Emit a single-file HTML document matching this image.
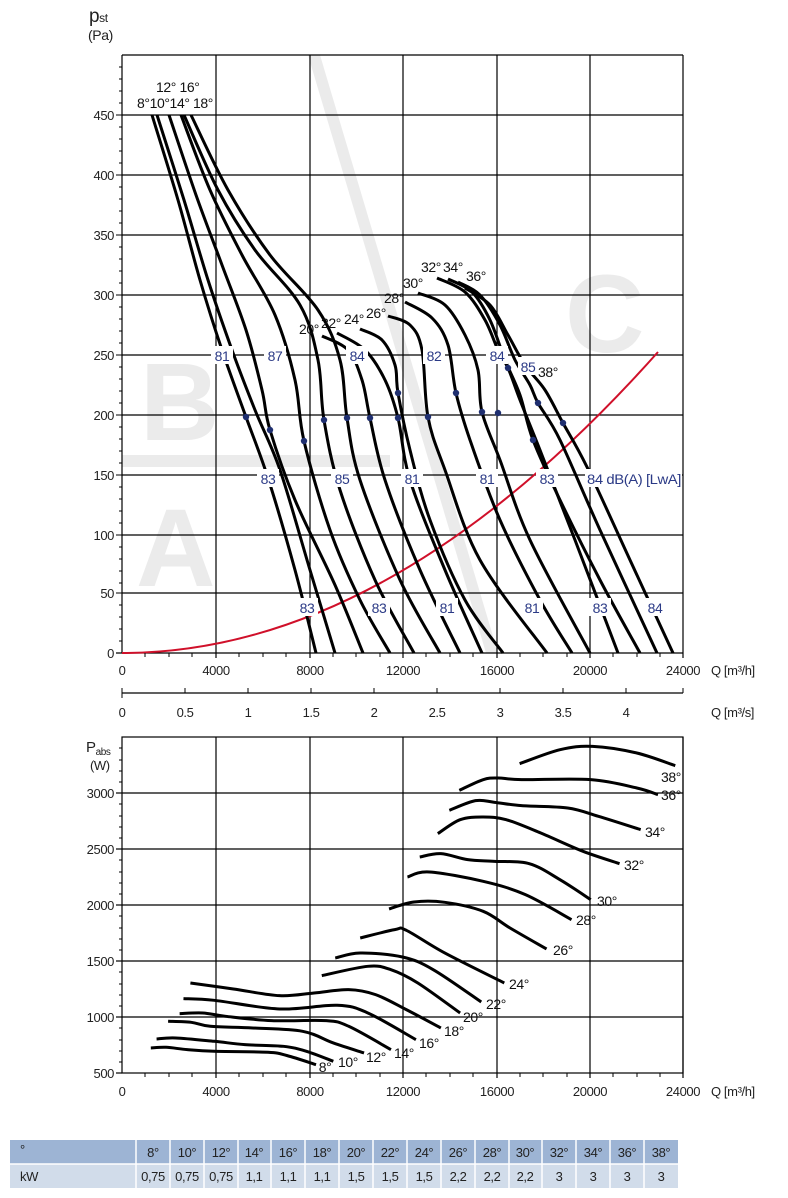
<!DOCTYPE html>
<html><head><meta charset="utf-8"><style>
html,body{margin:0;padding:0;background:#fff}
svg{display:block}
text{font-family:"Liberation Sans Narrow","Liberation Sans",sans-serif;letter-spacing:-0.4px}
.t{font-size:13px;fill:#222}
.b{font-size:14px;fill:#2b3a86}
.d{font-size:14px;fill:#111}
.c{fill:none;stroke:#000;stroke-width:3;stroke-linejoin:round;stroke-linecap:butt}
.g{stroke:#000;stroke-width:1.2}
</style></head><body>
<svg width="788" height="1198" viewBox="0 0 788 1198" xmlns="http://www.w3.org/2000/svg">
<g fill="#ebebeb">
<polygon points="308,55 320,55 498,653 486,653"/>
<rect x="122" y="455" width="268" height="12"/>
<text x="140" y="440" style="font-size:110px;font-weight:bold;font-family:'Liberation Sans',sans-serif">B</text>
<text x="136" y="586" style="font-size:110px;font-weight:bold;font-family:'Liberation Sans',sans-serif">A</text>
<text x="565" y="352" style="font-size:110px;font-weight:bold;font-family:'Liberation Sans',sans-serif">C</text>
</g>
<g class="g">
<line x1="122" y1="55" x2="683" y2="55"/>
<line x1="122" y1="115" x2="683" y2="115"/><line x1="122" y1="175" x2="683" y2="175"/>
<line x1="122" y1="235" x2="683" y2="235"/><line x1="122" y1="295" x2="683" y2="295"/>
<line x1="122" y1="355" x2="683" y2="355"/><line x1="122" y1="415" x2="683" y2="415"/>
<line x1="122" y1="475" x2="683" y2="475"/><line x1="122" y1="535" x2="683" y2="535"/>
<line x1="122" y1="593" x2="683" y2="593"/><line x1="116" y1="653" x2="683" y2="653"/>
<line x1="122" y1="55" x2="122" y2="653"/>
<line x1="216" y1="55" x2="216" y2="658"/><line x1="310" y1="55" x2="310" y2="658"/>
<line x1="403" y1="55" x2="403" y2="658"/><line x1="497" y1="55" x2="497" y2="658"/>
<line x1="590" y1="55" x2="590" y2="658"/><line x1="683" y1="55" x2="683" y2="658"/>
</g>
<g class="t" text-anchor="end">
<text x="114" y="658">0</text><text x="114" y="598">50</text><text x="114" y="540">100</text>
<text x="114" y="480">150</text><text x="114" y="420">200</text><text x="114" y="360">250</text>
<text x="114" y="300">300</text><text x="114" y="240">350</text><text x="114" y="180">400</text>
<text x="114" y="120">450</text>
</g>
<text x="89" y="22" style="font-size:19px;fill:#222">p<tspan style="font-size:12px">st</tspan></text>
<text x="88" y="40" style="font-size:14px;fill:#222">(Pa)</text>
<g class="t" text-anchor="middle">
<text x="122" y="675">0</text><text x="216" y="675">4000</text><text x="310" y="675">8000</text>
<text x="403" y="675">12000</text><text x="497" y="675">16000</text><text x="590" y="675">20000</text>
<text x="683" y="675">24000</text>
</g>
<text x="711" y="675" class="t">Q [m³/h]</text>
<line x1="122" y1="693" x2="683" y2="693" stroke="#000" stroke-width="1.2"/>
<g stroke="#000" stroke-width="1">
<line x1="122" y1="688" x2="122" y2="698"/><line x1="185" y1="688" x2="185" y2="693"/><line x1="248" y1="688" x2="248" y2="693"/><line x1="311" y1="688" x2="311" y2="693"/><line x1="374" y1="688" x2="374" y2="693"/><line x1="437" y1="688" x2="437" y2="693"/><line x1="500" y1="688" x2="500" y2="693"/><line x1="563" y1="688" x2="563" y2="693"/><line x1="626" y1="688" x2="626" y2="693"/><line x1="683" y1="688" x2="683" y2="693"/>
</g>
<g class="t" text-anchor="middle">
<text x="122" y="717">0</text><text x="185" y="717">0.5</text><text x="248" y="717">1</text><text x="311" y="717">1.5</text><text x="374" y="717">2</text><text x="437" y="717">2.5</text><text x="500" y="717">3</text><text x="563" y="717">3.5</text><text x="626" y="717">4</text>
</g>
<text x="711" y="717" class="t">Q [m³/s]</text>

<path d="M122,653 Q390,653 658,352" fill="none" stroke="#d0102a" stroke-width="2"/>

<g class="c">
<polyline class="s" points="152,115 178,200 200,280 222,350 246,417 268,478 295,570 316,653"/>
<polyline class="s" points="157,115 184,200 208,280 232,350 255,410 280,470 310,570 335,653"/>
<polyline class="s" points="169,115 196,195 222,265 246,330 262,390 270,430 295,500 335,585 363,653"/>
<polyline class="s" points="181,115 210,190 242,255 275,315 295,380 304,441 330,530 360,600 390,653"/>
<polyline class="s" points="184,115 218,190 255,250 300,305 318,360 324,420 340,490 375,580 414,653"/>
<polyline class="s" points="191,115 228,190 270,255 318,310 340,360 347,418 360,480 400,580 440,653"/>
<polyline class="s" points="322,336 348,350 362,380 370,418 385,480 420,570 460,653"/>
<polyline class="s" points="337,333 365,350 385,380 398,418 410,480 445,570 482,653"/>
<polyline class="s" points="360,329 382,340 395,365 398,393 410,450 430,520 465,600 503,653"/>
<polyline class="s" points="388,316 410,325 422,350 428,417 445,470 480,560 547,653"/>
<polyline class="s" points="405,302 432,318 448,345 456,393 470,440 500,520 540,600 572,653"/>
<polyline class="s" points="418,293 445,305 465,335 478,370 482,412 500,460 530,540 590,653"/>
<polyline class="s" points="437,278 465,292 485,320 498,350 508,368 520,400 540,450 575,540 618,653"/>
<polyline class="s" points="448,279 472,292 490,320 505,360 520,395 533,440 560,500 600,580 640,653"/>
<polyline class="s" points="458,282 480,295 500,325 515,360 530,385 538,403 560,440 600,530 657,653"/>
<polyline class="s" points="465,288 490,305 508,335 525,365 545,390 563,423 587,467 630,560 673,653"/>
</g>
<g fill="#1f2f70">
<circle cx="246" cy="417" r="3.2"/><circle cx="270" cy="430" r="3.2"/><circle cx="304" cy="441" r="3.2"/>
<circle cx="324" cy="420" r="3.2"/><circle cx="347" cy="418" r="3.2"/><circle cx="370" cy="418" r="3.2"/>
<circle cx="398" cy="418" r="3.2"/><circle cx="398" cy="393" r="3.2"/><circle cx="428" cy="417" r="3.2"/>
<circle cx="456" cy="393" r="3.2"/><circle cx="482" cy="412" r="3.2"/><circle cx="498" cy="413" r="3.2"/>
<circle cx="508" cy="368" r="3.2"/><circle cx="533" cy="440" r="3.2"/><circle cx="538" cy="403" r="3.2"/>
<circle cx="563" cy="423" r="3.2"/>
</g>
<g fill="#fff">
<rect x="211" y="346" width="22" height="18"/><rect x="264" y="346" width="22" height="18"/>
<rect x="346" y="346" width="22" height="18"/><rect x="423" y="346" width="22" height="18"/>
<rect x="486" y="346" width="22" height="18"/><rect x="518" y="357" width="20" height="18"/>
<rect x="257" y="469" width="22" height="18"/><rect x="331" y="469" width="22" height="18"/>
<rect x="401" y="469" width="22" height="18"/><rect x="476" y="469" width="22" height="18"/>
<rect x="536" y="469" width="22" height="18"/><rect x="585" y="469" width="97" height="18"/>
<rect x="296" y="598" width="22" height="18"/><rect x="368" y="598" width="22" height="18"/>
<rect x="436" y="598" width="22" height="18"/><rect x="521" y="598" width="22" height="18"/>
<rect x="589" y="598" width="22" height="18"/><rect x="644" y="598" width="22" height="18"/>
</g>
<g class="b" text-anchor="middle">
<text x="222" y="361">81</text><text x="275" y="361">87</text><text x="357" y="361">84</text>
<text x="434" y="361">82</text><text x="497" y="361">84</text><text x="528" y="372">85</text>
<text x="268" y="484">83</text><text x="342" y="484">85</text><text x="412" y="484">81</text>
<text x="487" y="484">81</text><text x="547" y="484">83</text>
<text x="307" y="613">83</text><text x="379" y="613">83</text><text x="447" y="613">81</text>
<text x="532" y="613">81</text><text x="600" y="613">83</text><text x="655" y="613">84</text>
</g>
<text x="587" y="484" class="b" textLength="94" lengthAdjust="spacingAndGlyphs">84 dB(A) [LwA]</text>
<g class="d">
<text x="156" y="92">12° 16°</text>
<text x="137" y="108" textLength="76" lengthAdjust="spacingAndGlyphs">8°10°14° 18°</text>
<text x="299" y="334">20°</text><text x="321" y="328">22°</text><text x="344" y="324">24°</text><text x="366" y="318">26°</text>
<text x="384" y="303">28°</text><text x="403" y="288">30°</text>
<text x="421" y="272">32°</text><text x="443" y="272">34°</text><text x="466" y="281">36°</text>
<text x="538" y="377">38°</text>
</g>

<g class="g">
<rect x="122" y="737" width="561" height="336" fill="none"/>
<line x1="122" y1="1017" x2="683" y2="1017"/><line x1="122" y1="961" x2="683" y2="961"/>
<line x1="122" y1="905" x2="683" y2="905"/><line x1="122" y1="849" x2="683" y2="849"/>
<line x1="122" y1="793" x2="683" y2="793"/>
<line x1="216" y1="737" x2="216" y2="1078"/><line x1="310" y1="737" x2="310" y2="1078"/>
<line x1="403" y1="737" x2="403" y2="1078"/><line x1="497" y1="737" x2="497" y2="1078"/>
<line x1="590" y1="737" x2="590" y2="1078"/><line x1="683" y1="737" x2="683" y2="1078"/>
<line x1="116" y1="1073" x2="122" y2="1073"/><line x1="116" y1="1017" x2="122" y2="1017"/><line x1="116" y1="961" x2="122" y2="961"/><line x1="116" y1="905" x2="122" y2="905"/><line x1="116" y1="849" x2="122" y2="849"/><line x1="116" y1="793" x2="122" y2="793"/>
</g>
<g class="t" text-anchor="end">
<text x="114" y="1078">500</text><text x="114" y="1022">1000</text><text x="114" y="966">1500</text>
<text x="114" y="910">2000</text><text x="114" y="854">2500</text><text x="114" y="798">3000</text>
</g>
<text x="86" y="752" style="font-size:15px;fill:#222">P<tspan style="font-size:10px" dy="3">abs</tspan></text>
<text x="90" y="770" style="font-size:13px;fill:#222">(W)</text>
<g class="t" text-anchor="middle">
<text x="122" y="1096">0</text><text x="216" y="1096">4000</text><text x="310" y="1096">8000</text>
<text x="403" y="1096">12000</text><text x="497" y="1096">16000</text><text x="590" y="1096">20000</text>
<text x="683" y="1096">24000</text>
</g>
<text x="711" y="1096" class="t">Q [m³/h]</text>

<g transform="matrix(0.3842 0 0 0.3333 98.95 719.67)">
<g fill="none" stroke="#000" stroke-width="3" stroke-linejoin="round">
<polyline class="s" vector-effect="non-scaling-stroke" points="135,985 175,983 230,990 300,995 440,998 490,1008 565,1035"/>
<polyline class="s" vector-effect="non-scaling-stroke" points="150,958 200,955 300,965 380,975 480,980 540,995 610,1025"/>
<polyline class="s" vector-effect="non-scaling-stroke" points="180,905 240,908 290,920 400,925 530,935 610,970 690,1000"/>
<polyline class="s" vector-effect="non-scaling-stroke" points="210,882 270,880 330,890 450,903 590,903 650,920 760,990"/>
<polyline class="s" vector-effect="non-scaling-stroke" points="220,837 300,842 470,868 620,857 700,880 825,960"/>
<polyline class="s" vector-effect="non-scaling-stroke" points="238,790 350,808 470,828 560,820 650,810 720,825 800,870 890,925"/>
<polyline class="s" vector-effect="non-scaling-stroke" points="580,768 700,740 760,750 830,790 940,880"/>
<polyline class="s" vector-effect="non-scaling-stroke" points="615,715 680,700 790,712 870,750 995,847"/>
<polyline class="s" vector-effect="non-scaling-stroke" points="680,655 770,630 800,632 900,700 1055,790"/>
<polyline class="s" vector-effect="non-scaling-stroke" points="755,568 820,547 900,548 1000,575 1070,625 1165,688"/>
<polyline class="s" vector-effect="non-scaling-stroke" points="803,472 860,457 1000,485 1110,525 1230,600"/>
<polyline class="s" vector-effect="non-scaling-stroke" points="835,412 890,402 960,420 1030,425 1120,432 1200,480 1280,540"/>
<polyline class="s" vector-effect="non-scaling-stroke" points="882,342 940,300 1000,292 1060,300 1150,340 1260,395 1355,432"/>
<polyline class="s" vector-effect="non-scaling-stroke" points="912,272 980,243 1030,248 1100,258 1220,265 1300,290 1410,330"/>
<polyline class="s" vector-effect="non-scaling-stroke" points="938,212 1000,180 1040,175 1100,180 1280,180 1400,205 1455,225"/>
<polyline class="s" vector-effect="non-scaling-stroke" points="1095,132 1200,90 1285,80 1400,100 1500,138"/>
</g>
</g>
<g class="d" text-anchor="middle">
<text x="325" y="1072">8°</text><text x="348" y="1067">10°</text><text x="376" y="1062">12°</text>
<text x="404" y="1058">14°</text><text x="429" y="1048">16°</text><text x="454" y="1036">18°</text>
<text x="473" y="1022">20°</text><text x="496" y="1009">22°</text><text x="519" y="989">24°</text>
<text x="563" y="955">26°</text><text x="586" y="925">28°</text><text x="607" y="906">30°</text>
<text x="634" y="870">32°</text><text x="655" y="837">34°</text><text x="671" y="800">36°</text>
<text x="671" y="782">38°</text>
</g>

<g>
<rect x="10" y="1140" width="668" height="24" fill="#9db4d4"/>
<rect x="10" y="1164" width="668" height="24" fill="#d1dcea"/>
<g stroke="#fff" stroke-width="1.5">
<line x1="10" y1="1164" x2="678" y2="1164"/>
<line x1="136" y1="1140" x2="136" y2="1188"/><line x1="170" y1="1140" x2="170" y2="1188"/><line x1="204" y1="1140" x2="204" y2="1188"/><line x1="238" y1="1140" x2="238" y2="1188"/><line x1="271" y1="1140" x2="271" y2="1188"/><line x1="305" y1="1140" x2="305" y2="1188"/><line x1="339" y1="1140" x2="339" y2="1188"/><line x1="373" y1="1140" x2="373" y2="1188"/><line x1="407" y1="1140" x2="407" y2="1188"/><line x1="441" y1="1140" x2="441" y2="1188"/><line x1="475" y1="1140" x2="475" y2="1188"/><line x1="509" y1="1140" x2="509" y2="1188"/><line x1="542" y1="1140" x2="542" y2="1188"/><line x1="576" y1="1140" x2="576" y2="1188"/><line x1="610" y1="1140" x2="610" y2="1188"/><line x1="644" y1="1140" x2="644" y2="1188"/>
</g>
<g style="font-size:13px;fill:#222" text-anchor="middle">
<text x="20" y="1154" text-anchor="start">°</text>
<text x="153" y="1157">8°</text><text x="187" y="1157">10°</text><text x="221" y="1157">12°</text><text x="254" y="1157">14°</text><text x="288" y="1157">16°</text><text x="322" y="1157">18°</text><text x="356" y="1157">20°</text><text x="390" y="1157">22°</text><text x="424" y="1157">24°</text><text x="458" y="1157">26°</text><text x="492" y="1157">28°</text><text x="525" y="1157">30°</text><text x="559" y="1157">32°</text><text x="593" y="1157">34°</text><text x="627" y="1157">36°</text><text x="661" y="1157">38°</text>
<text x="20" y="1181" text-anchor="start">kW</text>
<text x="153" y="1181">0,75</text><text x="187" y="1181">0,75</text><text x="221" y="1181">0,75</text><text x="254" y="1181">1,1</text><text x="288" y="1181">1,1</text><text x="322" y="1181">1,1</text><text x="356" y="1181">1,5</text><text x="390" y="1181">1,5</text><text x="424" y="1181">1,5</text><text x="458" y="1181">2,2</text><text x="492" y="1181">2,2</text><text x="525" y="1181">2,2</text><text x="559" y="1181">3</text><text x="593" y="1181">3</text><text x="627" y="1181">3</text><text x="661" y="1181">3</text>
</g>
</g>
<g stroke="#000" stroke-width="1">
<path d="M116,115H122M116,175H122M116,235H122M116,295H122M116,355H122M116,415H122M116,475H122M116,535H122M116,593H122
M119,67H122M119,79H122M119,91H122M119,103H122M119,127H122M119,139H122M119,151H122M119,163H122M119,187H122M119,199H122M119,211H122M119,223H122M119,247H122M119,259H122M119,271H122M119,283H122M119,307H122M119,319H122M119,331H122M119,343H122M119,367H122M119,379H122M119,391H122M119,403H122M119,427H122M119,439H122M119,451H122M119,463H122M119,487H122M119,499H122M119,511H122M119,523H122M119,547H122M119,559H122M119,571H122M119,583H122M119,605H122M119,617H122M119,629H122M119,641H122
M145,653V657M169,653V657M192,653V657M239,653V657M263,653V657M286,653V657M333,653V657M356,653V657M380,653V657M426,653V657M450,653V657M473,653V657M520,653V657M543,653V657M567,653V657M613,653V657M637,653V657M660,653V657
M119,1062H122M119,1051H122M119,1040H122M119,1028H122M119,1006H122M119,995H122M119,984H122M119,972H122M119,950H122M119,939H122M119,928H122M119,916H122M119,894H122M119,883H122M119,872H122M119,860H122M119,838H122M119,827H122M119,816H122M119,804H122M119,782H122M119,771H122M119,760H122M119,748H122
M145,1073V1077M169,1073V1077M192,1073V1077M239,1073V1077M263,1073V1077M286,1073V1077M333,1073V1077M356,1073V1077M380,1073V1077M426,1073V1077M450,1073V1077M473,1073V1077M520,1073V1077M543,1073V1077M567,1073V1077M613,1073V1077M637,1073V1077M660,1073V1077"/>
</g>
</svg>
<script>
(function(){
var ns="http://www.w3.org/2000/svg";
var pls=document.querySelectorAll("polyline.s");
for(var i=0;i<pls.length;i++){
 var pl=pls[i];
 var a=pl.getAttribute("points").trim().split(/\s+/).map(function(s){return s.split(",").map(Number);});
 var d="M"+a[0][0]+","+a[0][1];
 for(var j=0;j<a.length-1;j++){
  var p0=a[j-1]||a[j],p1=a[j],p2=a[j+1],p3=a[j+2]||a[j+1];
  var c1x=p1[0]+(p2[0]-p0[0])/6,c1y=p1[1]+(p2[1]-p0[1])/6;
  var c2x=p2[0]-(p3[0]-p1[0])/6,c2y=p2[1]-(p3[1]-p1[1])/6;
  d+=" C"+c1x.toFixed(1)+","+c1y.toFixed(1)+" "+c2x.toFixed(1)+","+c2y.toFixed(1)+" "+p2[0]+","+p2[1];
 }
 var p=document.createElementNS(ns,"path");
 p.setAttribute("d",d);
 var ve=pl.getAttribute("vector-effect");if(ve)p.setAttribute("vector-effect",ve);
 p.setAttribute("class",pl.getAttribute("class")==="s"&&pl.parentNode.getAttribute("class")==="c"?"":"");
 pl.parentNode.replaceChild(p,pl);
}
})();
</script>
</body></html>
